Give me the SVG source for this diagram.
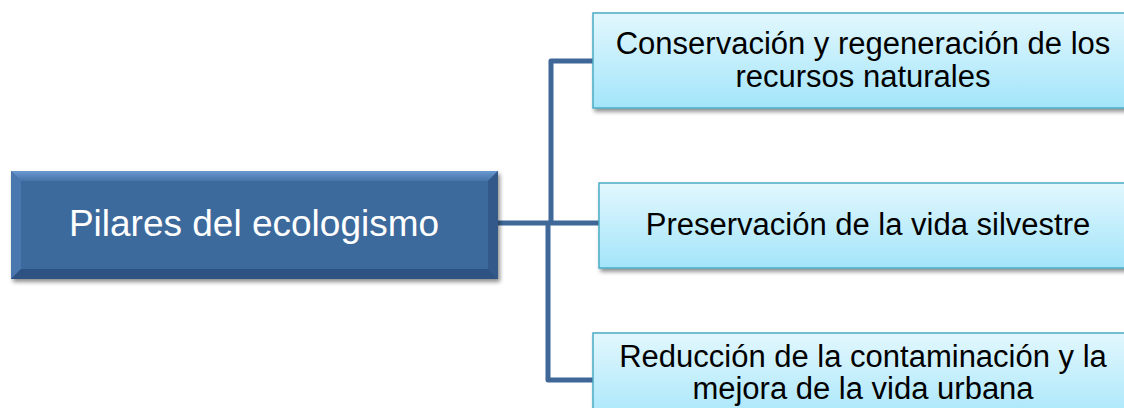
<svg xmlns="http://www.w3.org/2000/svg" width="1124" height="408" viewBox="0 0 1124 408">
  <defs>
    <linearGradient id="childFill" x1="0" y1="0" x2="0" y2="1">
      <stop offset="0" stop-color="#E2F7FD"/>
      <stop offset="1" stop-color="#A3E5FA"/>
    </linearGradient>
    <linearGradient id="topBevel" x1="0" y1="0" x2="0" y2="1">
      <stop offset="0" stop-color="#6A9AD2"/>
      <stop offset="1" stop-color="#4673A8"/>
    </linearGradient>
    <filter id="shadow" x="-5%" y="-10%" width="115%" height="130%">
      <feGaussianBlur in="SourceAlpha" stdDeviation="2.2"/>
      <feOffset dx="2" dy="3" result="b"/>
      <feComponentTransfer><feFuncA type="linear" slope="0.45"/></feComponentTransfer>
      <feMerge><feMergeNode/><feMergeNode in="SourceGraphic"/></feMerge>
    </filter>
  </defs>
  <style>
    .child { fill: url(#childFill); stroke: #4BACC6; stroke-width: 1.5; filter: url(#shadow); }
    .ctext { font-family: "Liberation Sans", Arial, sans-serif; font-size: 31px; fill: #000; text-anchor: middle; }
    .mtext { font-family: "Liberation Sans", Arial, sans-serif; font-size: 37px; fill: #FFFFFF; text-anchor: middle; }
    .conn { fill: none; stroke: #3F6898; stroke-width: 5; stroke-linejoin: round; }
  </style>
  <rect width="1124" height="408" fill="#FFFFFF"/>

  <g id="connectors">
    <path class="conn" d="M498 223 H599"/>
    <path class="conn" d="M551 223 V61 H594"/>
    <path class="conn" d="M548 223 V380 H594"/>
  </g>

  <g id="main">
    <g filter="url(#shadow)">
      <rect x="11" y="171" width="487" height="108" fill="#3E6A9C"/>
    </g>
    <polygon points="11,171 498,171 488,181 21,181" fill="url(#topBevel)"/>
    <polygon points="11,171 21,181 21,269 11,279" fill="#4A78AE"/>
    <polygon points="498,171 498,279 488,269 488,181" fill="#33598A"/>
    <polygon points="11,279 21,269 488,269 498,279" fill="#2E5383"/>
    <text class="mtext" x="254" y="236">Pilares del ecologismo</text>
  </g>

  <g id="node1">
    <rect class="child" x="593" y="13" width="545" height="95"/>
    <text class="ctext" x="863" y="54">Conservación y regeneración de los</text>
    <text class="ctext" x="863" y="87">recursos naturales</text>
  </g>

  <g id="node2">
    <rect class="child" x="599" y="183" width="540" height="85"/>
    <text class="ctext" x="868" y="235">Preservación de la vida silvestre</text>
  </g>

  <g id="node3">
    <rect class="child" x="593" y="333" width="545" height="95"/>
    <text class="ctext" x="863" y="367">Reducción de la contaminación y la</text>
    <text class="ctext" x="863" y="399">mejora de la vida urbana</text>
  </g>
</svg>
